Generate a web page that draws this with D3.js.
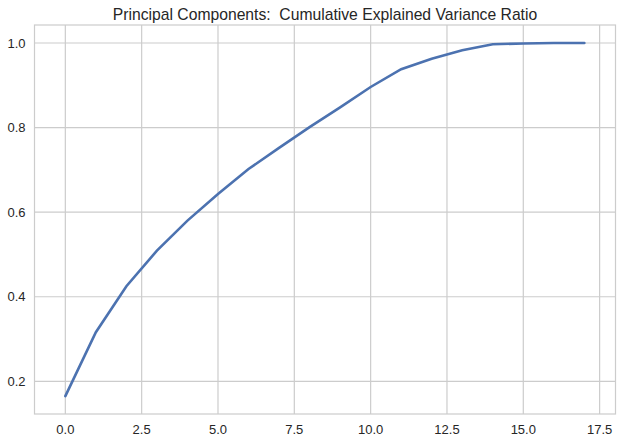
<!DOCTYPE html>
<html>
<head>
<meta charset="utf-8">
<script src="https://cdn.jsdelivr.net/npm/d3@7"></script>
<style>
  body { margin: 0; background: #fff; }
  text { font-family: Arial, "Liberation Sans", sans-serif; fill: #262626; }
</style>
</head>
<body>
<div id="chart"></div>
<script>
// cumulative explained variance ratio per component
var components = d3.range(18);
var cumVariance = [0.165, 0.316, 0.425, 0.509, 0.580, 0.643, 0.702, 0.752, 0.801, 0.848,
                   0.896, 0.938, 0.963, 0.983, 0.997, 0.999, 1.0, 1.0];
var xTicks = [0, 2.5, 5, 7.5, 10, 12.5, 15, 17.5];
var yTicks = [0.2, 0.4, 0.6, 0.8, 1.0];
var title = "Principal Components:  Cumulative Explained Variance Ratio";

var width = 621, height = 442,
    marginLeft = 34.5, marginRight = 5.5, marginTop = 25, marginBottom = 28,
    chartWidth = width - marginLeft - marginRight,
    chartHeight = height - marginTop - marginBottom;

var xScale = d3.scaleLinear().domain([-1.01, 18.02]).range([0, chartWidth]);
var yScale = d3.scaleLinear().domain([0.1227, 1.0426]).range([chartHeight, 0]);

var svg = d3.select("#chart").append("svg")
    .attr("width", width)
    .attr("height", height);

var chartArea = svg.append("g")
    .attr("transform", "translate(" + marginLeft + "," + marginTop + ")");

// grid
chartArea.append("g").selectAll("line").data(xTicks).enter()
  .append("line")
    .attr("x1", function(d){ return xScale(d); })
    .attr("x2", function(d){ return xScale(d); })
    .attr("y1", 0)
    .attr("y2", chartHeight)
    .style("stroke", "#cccccc")
    .style("stroke-width", 1.2);

chartArea.append("g").selectAll("line").data(yTicks).enter()
  .append("line")
    .attr("x1", 0)
    .attr("x2", chartWidth)
    .attr("y1", function(d){ return yScale(d); })
    .attr("y2", function(d){ return yScale(d); })
    .style("stroke", "#cccccc")
    .style("stroke-width", 1.2);

// frame
chartArea.append("rect")
    .attr("width", chartWidth)
    .attr("height", chartHeight)
    .style("fill", "none")
    .style("stroke", "#cccccc")
    .style("stroke-width", 1.2);

// tick labels
chartArea.append("g").selectAll("text").data(xTicks).enter()
  .append("text")
    .attr("x", function(d){ return xScale(d); })
    .attr("y", chartHeight + 19.5)
    .style("font-size", "13px")
    .style("text-anchor", "middle")
    .text(function(d){ return d3.format(".1f")(d); });

chartArea.append("g").selectAll("text").data(yTicks).enter()
  .append("text")
    .attr("x", -9)
    .attr("y", function(d){ return yScale(d); })
    .attr("dy", "0.35em")
    .style("font-size", "13px")
    .style("text-anchor", "end")
    .text(function(d){ return d3.format(".1f")(d); });

// the line
var line = d3.line()
    .x(function(d, i){ return xScale(components[i]); })
    .y(function(d){ return yScale(d); });

chartArea.append("path")
    .datum(cumVariance)
    .attr("d", line)
    .style("fill", "none")
    .style("stroke", "#4c72b0")
    .style("stroke-width", 2.6)
    .style("stroke-linecap", "round");

// title (keep the double space)
svg.append("text")
    .attr("x", marginLeft + chartWidth / 2)
    .attr("y", 19.5)
    .style("font-size", "15.7px")
    .style("white-space", "pre")
    .style("text-anchor", "middle")
    .text(title);
</script>
</body>
</html>
